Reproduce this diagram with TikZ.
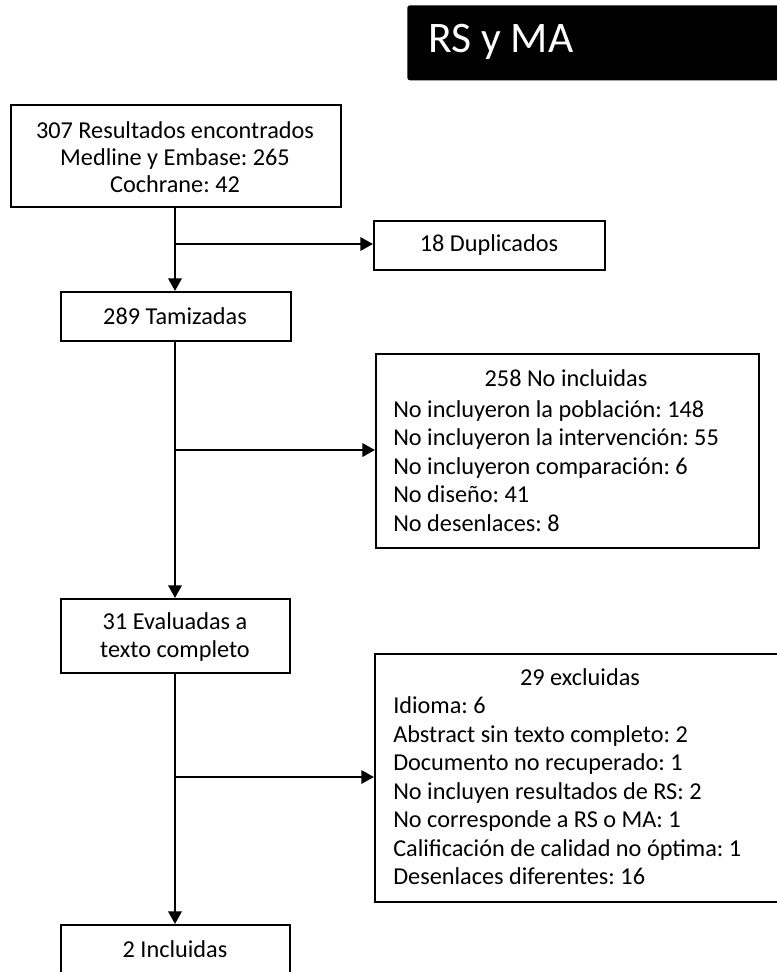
\documentclass[tikz,border=0pt]{standalone}
\usepackage{fontspec}
\setmainfont{Carlito}
\usetikzlibrary{arrows.meta}
\newdimen\px \px=0.75pt
\frenchspacing
\begin{document}
\begin{tikzpicture}[x=0.75pt,y=-0.75pt,
  boxst/.style={draw=black,line width=1.8pt,rectangle,inner sep=0pt,anchor=north west},
  txt/.style={inner sep=0pt,font=\fontsize{18.2}{21.4}\selectfont},
  arr/.style={line width=1.8pt,-{Triangle[length=9.5pt,width=10pt]}},
  ln/.style={line width=1.8pt}]
\useasboundingbox (0,0) rectangle (777,972);
\clip (0,0) rectangle (777,972);
% title
\node[fill=black,rounded corners=2pt,anchor=north west,minimum width=385\px,minimum height=75\px,inner sep=0pt] (title) at (407,5) {};
\node[anchor=west,inner sep=0pt,text=white,font=\fontsize{32.7}{36}\selectfont] (titletxt) at (428,42) {RS y MA};
% boxes
\node[boxst,minimum width=330\px,minimum height=102\px] (b1) at (10,104) {};
\node[txt,align=center,font=\fontsize{18.2}{20.25}\selectfont] (b1t) at (175,157) {307 Resultados encontrados\\Medline y Embase: 265\\Cochrane: 42};
\node[boxst,minimum width=231\px,minimum height=49\px] (dup) at (373,220) {};
\node[txt] (dupt) at (489,245) {18 Duplicados};
\node[boxst,minimum width=230\px,minimum height=49\px] (tam) at (60,291) {};
\node[txt] (tamt) at (175,316) {289 Tamizadas};
\node[boxst,minimum width=383\px,minimum height=194\px] (noinc) at (375,353) {};
\node[txt] (noinch) at (566,378) {258 No incluidas};
\node[txt,align=left,anchor=west] (noincl) at (393,466) {No incluyeron la población: 148\\No incluyeron la intervención: 55\\No incluyeron comparación: 6\\No diseño: 41\\No desenlaces: 8};
\node[boxst,minimum width=229\px,minimum height=74\px] (eval) at (60,598) {};
\node[txt,align=center] (evalt) at (175,637) {31 Evaluadas a\\texto completo};
\node[boxst,minimum width=412\px,minimum height=248\px] (exc) at (374,653) {};
\node[txt] (exch) at (580,677) {29 excluidas};
\node[txt,align=left,anchor=west] (excl) at (393,791) {Idioma: 6\\Abstract sin texto completo: 2\\Documento no recuperado: 1\\No incluyen resultados de RS: 2\\No corresponde a RS o MA: 1\\Calificación de calidad no óptima: 1\\Desenlaces diferentes: 16};
\node[boxst,minimum width=229\px,minimum height=80\px] (inc) at (60,924) {};
\node[txt] (inct) at (175,949) {2 Incluidas};
% connectors
\coordinate (j1) at (175,244);
\coordinate (j2) at (175,450);
\coordinate (j3) at (175,777);
\draw[arr] (b1.south -| j1) -- (tam.north -| j1);
\draw[arr] (j1) -- (j1 -| dup.west);
\draw[arr] (tam.south -| j2) -- (eval.north -| j2);
\draw[arr] (j2) -- (j2 -| noinc.west);
\draw[arr] (eval.south -| j3) -- (inc.north -| j3);
\draw[arr] (j3) -- (j3 -| exc.west);
\end{tikzpicture}
\end{document}
